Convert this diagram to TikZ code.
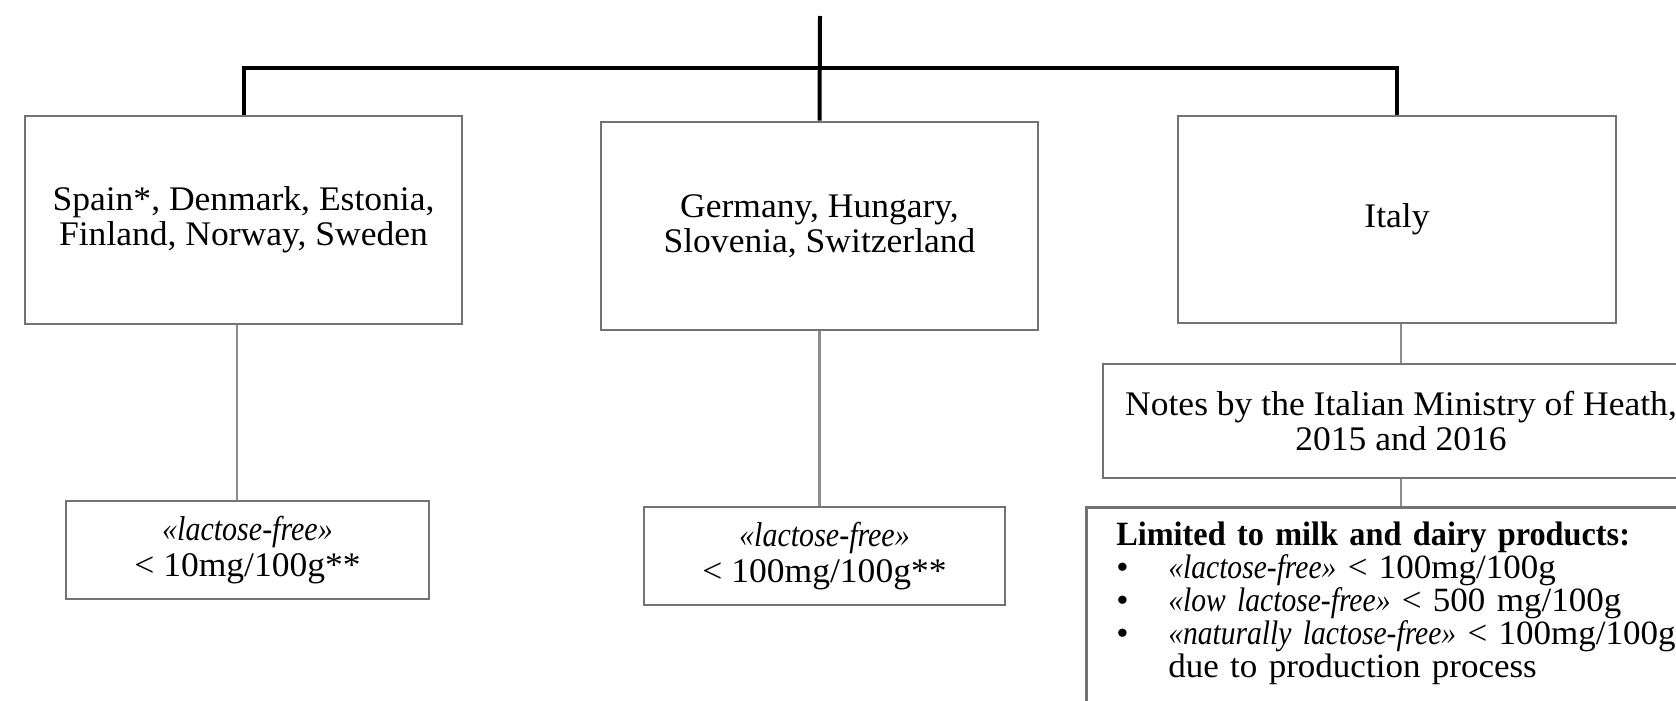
\documentclass[tikz,border=0pt]{standalone}
\usepackage{fontspec}
\setmainfont{Liberation Serif}[
  UprightFeatures={FakeStretch=1.03},
  ItalicFeatures={FakeStretch=0.87},
  BoldFeatures={FakeStretch=0.95}]
\begin{document}
\begin{tikzpicture}[x=1pt,y=-1pt,
  box/.style={draw=black!55, line width=2.6pt, inner sep=0pt, align=center,
    font=\fontsize{34.5}{35.5}\selectfont},
  trunk/.style={draw=black, line width=4pt},
  branch/.style={draw=black!45, line width=2.4pt}]
\useasboundingbox (0,0) rectangle (1676,701);
\clip (0,0) rectangle (1676,701);
% top level boxes
\node[box, minimum width=437pt, minimum height=208pt] (b1) at (243.5,220)
  {Spain*, Denmark, Estonia,\\Finland, Norway, Sweden};
\node[box, minimum width=437pt, minimum height=208pt] (b2) at (819.5,226)
  {Germany, Hungary,\\Slovenia, Switzerland};
\node[box, minimum width=438pt, minimum height=207pt] (it) at (1397,219.5)
  {Italy};
% lower boxes
\node[box, minimum width=363pt, minimum height=98pt] (l1) at (247.5,550)
  {\textit{«lactose-free»}\\< 10mg/100g**};
\node[box, minimum width=361pt, minimum height=98pt] (l2) at (824.5,556)
  {\textit{«lactose-free»}\\< 100mg/100g**};
\node[box, minimum width=596pt, minimum height=114pt] (nt) at (1401,421)
  {Notes by the Italian Ministry of Heath,\\2015 and 2016};
\node[box, anchor=north west, minimum width=680pt, font=\fontsize{34}{33}\selectfont,
  align=left, text width=620pt, inner xsep=30pt, inner ysep=15pt] (lm) at (1085,506)
  {\textbf{Limited to milk and dairy products:}\\
   \makebox[52pt][l]{•}\textit{«lactose-free»} < 100mg/100g\\
   \makebox[52pt][l]{•}\textit{«low lactose-free»} < 500 mg/100g\\
   \makebox[52pt][l]{•}\textit{«naturally lactose-free»} < 100mg/100g\\
   \hspace*{52pt}due to production process\\[30pt]
   \mbox{}};
% connectors
\coordinate (top) at (820,16);
\coordinate (hub) at (820,68.5);
\draw[trunk] (top) -- (b2.north);
\draw[trunk] (b1.north) |- (hub) -| (it.north);
\draw[branch] ([xshift=-6.5pt]b1.south) -- ([xshift=-6.5pt]b1.south |- l1.north);
\draw[branch] (b2.south) -- (b2.south |- l2.north);
\draw[branch] (nt.north) -- (nt.north |- it.south);
\draw[branch] (nt.south) -- (nt.south |- lm.north);
\end{tikzpicture}
\end{document}
